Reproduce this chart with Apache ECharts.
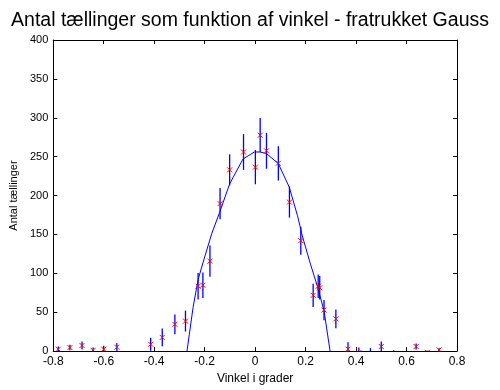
<!DOCTYPE html>
<html><head><meta charset="utf-8">
<script src="https://cdn.jsdelivr.net/npm/echarts@6/dist/echarts.min.js"></script>
<style>html,body{margin:0;padding:0;background:#fff}#c{width:500px;height:390px}</style>
</head><body><div id="c"></div>
<script>
const titleText = "Antal tællinger som funktion af vinkel - fratrukket Gauss";
const xName = "Vinkel i grader";
const yName = "Antal tællinger";
const pointX = [-0.78,-0.734,-0.686,-0.642,-0.6,-0.548,-0.414,-0.368,-0.318,-0.276,-0.226,-0.207,-0.179,-0.139,-0.101,-0.046,0.001,0.02,0.045,0.092,0.136,0.181,0.23,0.25,0.256,0.273,0.32,0.368,0.411,0.457,0.5,0.549,0.638,0.682,0.729];
const pointY = [2.5,4.6,7.2,1,2.5,5,8.8,17.6,34.4,38.6,83.4,84.7,115.7,189.6,233,256,236.5,277.6,257.5,241.5,191.6,142,71.7,83.4,81.4,52.8,41.5,2.5,-2,-3,5.9,-5,5.9,-1.6,1.6];
const pointErr = [3.5,3.5,5,3.6,4.5,5.5,8.5,11.5,12.6,13.5,17,16.5,20,20,20,23,22,22,23,22,20,18,15,15,15,13,12,9,6.6,6.8,6.5,6,4,2.5,2.5];
const curveX = [-0.27,-0.246,-0.226,-0.2,-0.172,-0.141,-0.101,-0.048,-0.003,0.02,0.045,0.092,0.135,0.168,0.187,0.22,0.247,0.273,0.297];
const curveY = [0,56,92,121,151,178,215,247,256,256,254,241,211,174,148,111,83,52,0];
const xTicks = {min:-0.8,max:0.8,interval:0.2};
const yTicks = {min:0,max:400,interval:50};

const pts = pointX.map((x,i)=>[x,pointY[i],pointErr[i]]);
const curve = curveX.map((x,i)=>[x,curveY[i]]);
const chart = echarts.init(document.getElementById('c'));
const axisCommon = {
  axisLine:{show:true,onZero:false,lineStyle:{color:'#000',width:1}},
  axisTick:{show:true,inside:true,length:4,lineStyle:{color:'#000'}},
  splitLine:{show:false}
};
chart.setOption({
  animation:false,
  title:{text:titleText,left:'center',top:6,textStyle:{fontFamily:'Liberation Sans',fontWeight:'normal',fontSize:19.5,color:'#000'}},
  grid:{left:51,right:43,top:40,bottom:32},
  xAxis:[
    Object.assign({type:'value',position:'bottom',min:xTicks.min,max:xTicks.max,interval:xTicks.interval,
      name:xName,nameLocation:'middle',nameGap:19,nameTextStyle:{fontFamily:'Liberation Sans',fontSize:12,color:'#000'},
      axisLabel:{fontFamily:'Liberation Sans',fontSize:12,color:'#000',margin:5}},axisCommon),
    Object.assign({type:'value',position:'top',min:xTicks.min,max:xTicks.max,interval:xTicks.interval,axisLabel:{show:false}},axisCommon)
  ],
  yAxis:[
    Object.assign({type:'value',position:'left',min:yTicks.min,max:yTicks.max,interval:yTicks.interval,
      name:yName,nameLocation:'middle',nameGap:31,nameTextStyle:{fontFamily:'Liberation Sans',fontSize:11,color:'#000'},
      axisLabel:{fontFamily:'Liberation Sans',fontSize:11,color:'#000',margin:5}},axisCommon),
    Object.assign({type:'value',position:'right',min:yTicks.min,max:yTicks.max,interval:yTicks.interval,axisLabel:{show:false}},axisCommon)
  ],
  series:[
    {type:'line',data:curve,symbol:'none',lineStyle:{color:'#0000ff',width:1},clip:true,z:2},
    {type:'custom',data:pts,clip:true,z:3,
      renderItem:function(params,api){
        const x=api.value(0),y=api.value(1),e=api.value(2);
        const top=api.coord([x,y+e]),bot=api.coord([x,y-e]),c=api.coord([x,y]);
        const s=2.5;
        return {type:'group',children:[
          {type:'line',shape:{x1:top[0],y1:top[1],x2:bot[0],y2:bot[1]},style:{stroke:'#0000ff',lineWidth:1.3}},
          {type:'line',shape:{x1:c[0]-s,y1:c[1]-s,x2:c[0]+s,y2:c[1]+s},style:{stroke:'#ff0000',lineWidth:1}},
          {type:'line',shape:{x1:c[0]-s,y1:c[1]+s,x2:c[0]+s,y2:c[1]-s},style:{stroke:'#ff0000',lineWidth:1}}
        ]};
      }}
  ]
});
</script></body></html>
